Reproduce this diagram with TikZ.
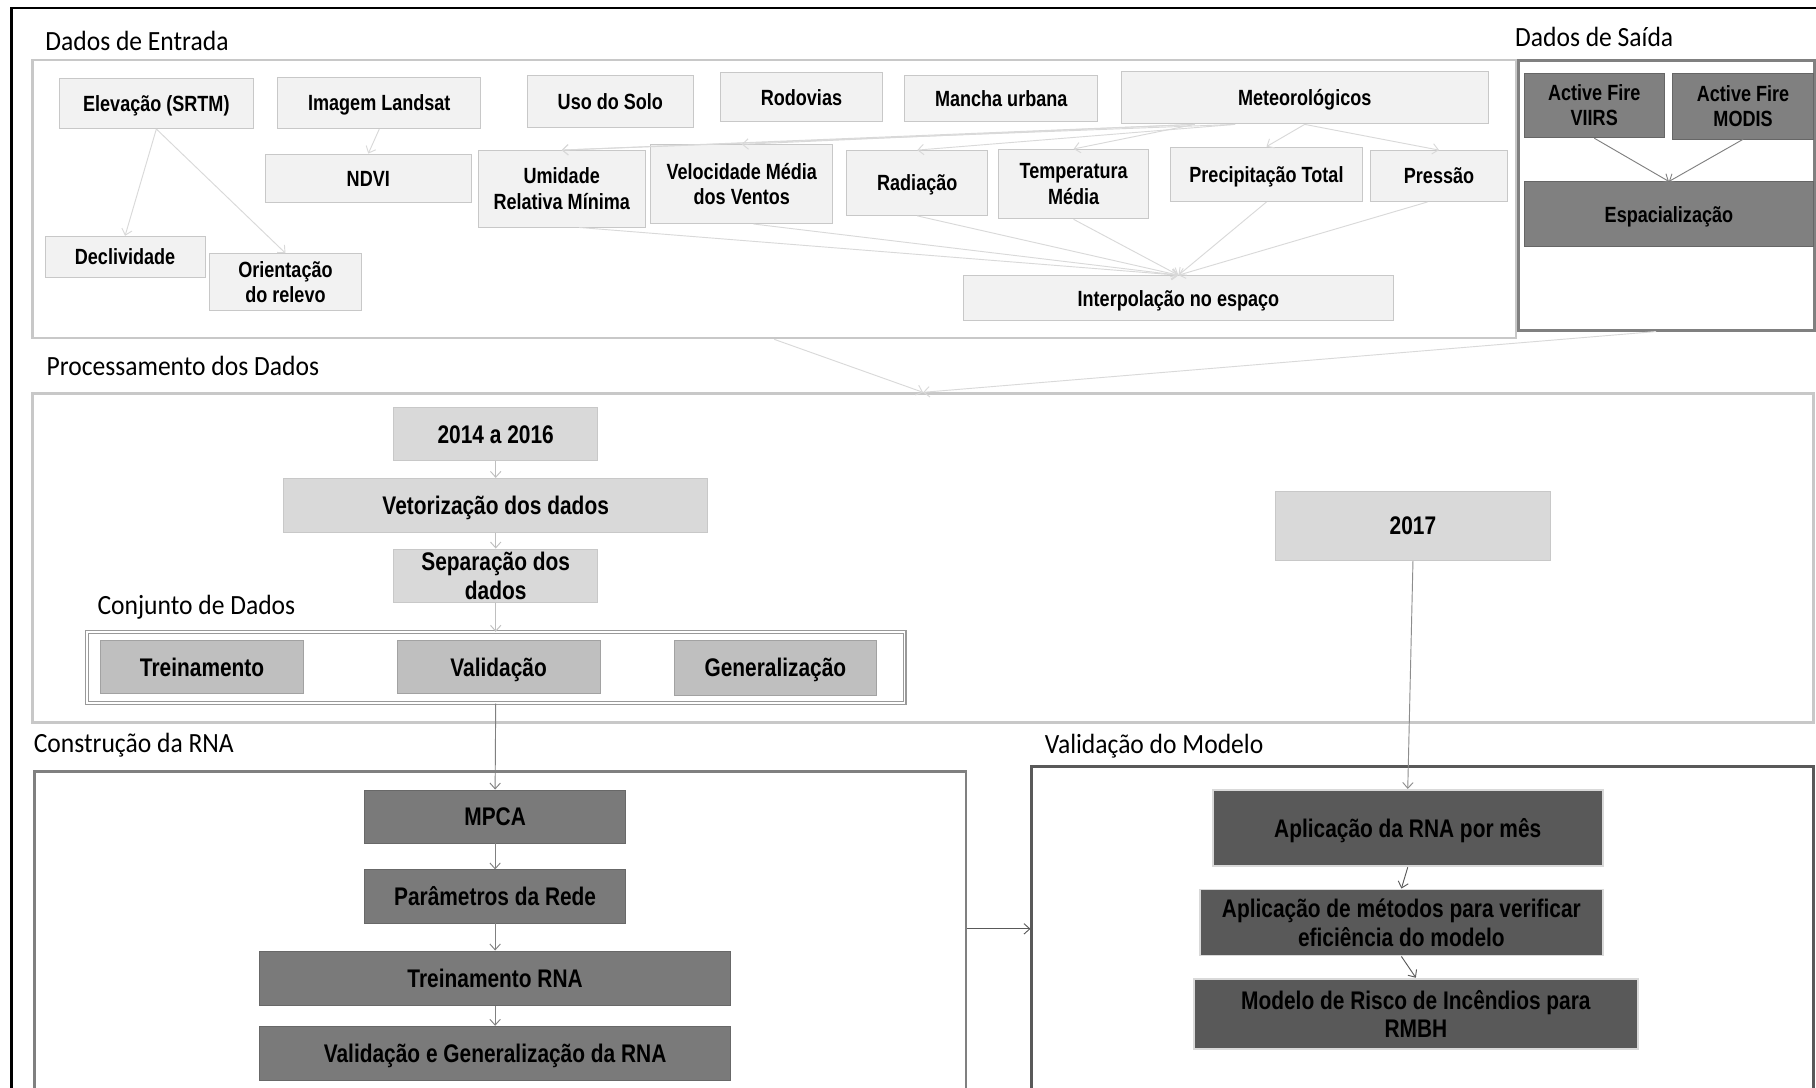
\documentclass[tikz,border=0pt]{standalone}
\usepackage{fontspec}
\usetikzlibrary{arrows.meta}
\newfontfamily\bxf[FakeStretch=0.82]{Liberation Sans}
\newfontfamily\lbf[FakeStretch=0.92]{Carlito}
\definecolor{cEntF}{HTML}{F2F2F2}
\definecolor{cEntD}{HTML}{C8C8C8}
\definecolor{cProF}{HTML}{D9D9D9}
\definecolor{cConjF}{HTML}{BFBFBF}
\definecolor{cSaiF}{HTML}{808080}
\definecolor{cRnaF}{HTML}{7A7A7A}
\definecolor{cValF}{HTML}{595959}
\tikzset{
  bx/.style={inner sep=0pt, align=center, font=\bxf\bfseries\fontsize{22}{25}\selectfont},
  onel/.style={text height=15.8pt, text depth=0pt},
  ones/.style={text height=13.6pt, text depth=0pt},
  ent/.style={bx, fill=cEntF, draw=cEntD, line width=0.8pt, font=\bxf\bfseries\fontsize{19}{22}\selectfont},
  sai/.style={bx, fill=cSaiF, draw=cSaiF!80!black, line width=0.6pt, font=\bxf\bfseries\fontsize{19}{22}\selectfont},
  pro/.style={bx, fill=cProF, draw=cEntD, line width=0.8pt},
  conj/.style={bx, fill=cConjF, draw=cConjF!85!black, line width=0.6pt},
  rna/.style={bx, fill=cRnaF, draw=cRnaF!85!black, line width=0.6pt},
  val/.style={bx, fill=cValF, draw=cProF, line width=1.6pt},
  frame/.style={inner sep=0pt},
  lab/.style={anchor=west, inner sep=0pt, font=\lbf\fontsize{24}{26}\selectfont},
  ar/.style={-{Straight Barb[length=5pt,width=9pt]}, line width=0.8pt},
}
\begin{document}
\begin{tikzpicture}[x=1pt,y=-1pt]
\useasboundingbox (0,0) rectangle (1568,939);
\clip (0,0) rectangle (1568,939);
\fill[white] (0,0) rectangle (1568,939);
% outer frame
\draw[black, line width=2pt] (10,7) rectangle (1600,1000);

% section frames
\node[frame, draw=cEntD, line width=2pt, minimum width=1281, minimum height=240] (fEnt) at (668.5,172) {};
\node[frame, draw=cSaiF, line width=2.5pt, minimum width=256, minimum height=233] (fSai) at (1439,168.5) {};
\node[frame, draw=cEntD, line width=2.5pt, minimum width=1538, minimum height=284] (fProc) at (797,482) {};
\node[frame, draw=cConjF!80!black, double=white, double distance=1.5pt, line width=1pt, minimum width=706, minimum height=61] (fConj) at (428,576.5) {};
\node[frame, draw=cSaiF, line width=2.2pt, minimum width=804, minimum height=294] (fCon) at (432,813) {};
\node[frame, draw=cValF, line width=2.5pt, minimum width=675, minimum height=298] (fVal) at (1228.5,811) {};

% labels
\node[lab] (lEnt) at (39,35) {Dados de Entrada};
\node[lab] (lSai) at (1308,32) {Dados de Saída};
\node[lab] (lProc) at (40,316) {Processamento dos Dados};
\node[lab] (lConj) at (84,524) {Conjunto de Dados};
\node[lab] (lCon) at (29,643) {Construção da RNA};
\node[lab] (lVal) at (902,644) {Validação do Modelo};

% Dados de Entrada
\node[ent, ones, minimum width=168, minimum height=43] (elev) at (135,89.5) {Elevação (SRTM)};
\node[ent, ones, minimum width=175, minimum height=44] (land) at (327.5,89) {Imagem Landsat};
\node[ent, ones, minimum width=144, minimum height=45] (uso) at (527,87.5) {Uso do Solo};
\node[ent, ones, minimum width=140, minimum height=42] (rodo) at (692,84) {Rodovias};
\node[ent, ones, minimum width=167, minimum height=40] (manc) at (864.5,85) {Mancha urbana};
\node[ent, ones, minimum width=317, minimum height=45] (meteo) at (1126.5,84.5) {Meteorológicos};
\node[ent, ones, minimum width=178, minimum height=42] (ndvi) at (318,154) {NDVI};
\node[ent, minimum width=144, minimum height=66] (umid) at (485,163) {Umidade\\Relativa Mínima};
\node[ent, minimum width=157, minimum height=68] (velo) at (640.5,159) {Velocidade Média\\dos Ventos};
\node[ent, ones, minimum width=122, minimum height=56] (radi) at (792,158) {Radiação};
\node[ent, minimum width=130, minimum height=60] (temp) at (927,159) {Temperatura\\Média};
\node[ent, ones, minimum width=165, minimum height=47] (prec) at (1093.5,150.5) {Precipitação Total};
\node[ent, ones, minimum width=119, minimum height=44] (pres) at (1242.5,152) {Pressão};
\node[ent, ones, minimum width=138, minimum height=36] (decl) at (108,222) {Declividade};
\node[ent, minimum width=131, minimum height=49] (orie) at (246.5,243.5) {Orientação\\do relevo};
\node[ent, ones, minimum width=371, minimum height=39] (interp) at (1017.5,257.5) {Interpolação no espaço};

% Dados de Saida
\node[sai, minimum width=121, minimum height=56] (viirs) at (1376.5,91) {Active Fire\\VIIRS};
\node[sai, minimum width=122, minimum height=57] (modis) at (1505,91.5) {Active Fire\\MODIS};
\node[sai, ones, minimum width=250, minimum height=56] (espac) at (1441,185) {Espacialização};

% Processamento
\node[pro, onel, minimum width=176, minimum height=46] (p2014) at (428,375) {2014 a 2016};
\node[pro, onel, minimum width=366, minimum height=47] (vet) at (428,436.5) {Vetorização dos dados};
\node[pro, minimum width=176, minimum height=46] (sep) at (428,497) {Separação dos\\dados};
\node[conj, onel, minimum width=175, minimum height=46] (trei) at (174.5,576) {Treinamento};
\node[conj, onel, minimum width=175, minimum height=46] (vali) at (430.5,576) {Validação};
\node[conj, onel, minimum width=175, minimum height=47] (gene) at (669.5,576.5) {Generalização};
\node[pro, onel, minimum width=238, minimum height=60] (p2017) at (1220,454) {2017};

% Construcao
\node[rna, onel, minimum width=225, minimum height=46] (mpca) at (427.5,705) {MPCA};
\node[rna, onel, minimum width=225, minimum height=46] (param) at (427.5,774) {Parâmetros da Rede};
\node[rna, onel, minimum width=407, minimum height=47] (trna) at (427.5,844.5) {Treinamento RNA};
\node[rna, onel, minimum width=407, minimum height=47] (vgrna) at (427.5,909.5) {Validação e Generalização da RNA};

% Validacao
\node[val, onel, minimum width=337, minimum height=66] (apl) at (1215.5,715) {Aplicação da RNA por mês};
\node[val, minimum width=348, minimum height=57] (met) at (1210,796.5) {Aplicação de métodos para verificar\\eficiência do modelo};
\node[val, minimum width=383, minimum height=61] (mod) at (1222.5,875.5) {Modelo de Risco de Incêndios para\\RMBH};

% connectors: entrada
\begin{scope}[ar, draw=cProF]
\draw (elev.south) -- (decl.north);
\draw (elev.south) -- (orie.north);
\draw (land.south) -- (ndvi.north);
\draw ([xshift=-95pt]meteo.south) -- (umid.north);
\draw ([xshift=-60pt]meteo.south) -- (umid.north);
\draw ([xshift=-95pt]meteo.south) -- (velo.north);
\draw ([xshift=-60pt]meteo.south) -- (radi.north);
\draw ([xshift=-95pt]meteo.south) -- (temp.north);
\draw (meteo.south) -- (prec.north);
\draw (meteo.south) -- (pres.north);
\draw ([xshift=15pt]umid.south) -- (interp.north);
\draw ([xshift=10pt]velo.south) -- (interp.north);
\draw (radi.south) -- (interp.north);
\draw (temp.south) -- (interp.north);
\draw (prec.south) -- (interp.north);
\draw ([xshift=-10pt]pres.south) -- (interp.north);
\draw (fEnt.south) -- (fProc.north);
\draw ([xshift=-9pt]fSai.south) -- (fProc.north);
\end{scope}
% saida
\begin{scope}[ar, draw=cSaiF]
\draw (viirs.south) -- (espac.north);
\draw (modis.south) -- (espac.north);
\end{scope}
% processamento
\begin{scope}[ar, draw=cConjF]
\draw (p2014.south) -- (vet.north);
\draw (vet.south) -- (sep.north);
\draw (sep.south) -- (fConj.north);
\end{scope}
\draw[ar, draw=cSaiF] (fConj.south) -- (mpca.north);
\draw[ar, draw=cSaiF!90] (p2017.south) -- (apl.north);
% construcao
\begin{scope}[ar, draw=cSaiF]
\draw (mpca.south) -- (param.north);
\draw (param.south) -- (trna.north);
\draw (trna.south) -- (vgrna.north);
\end{scope}
\draw[ar, draw=cValF] ([yshift=11pt]fCon.east) -- ([yshift=9pt]fVal.west);
% validacao
\begin{scope}[ar, draw=cValF]
\draw (apl.south) -- (met.north);
\draw (met.south) -- (mod.north);
\end{scope}
\end{tikzpicture}
\end{document}
